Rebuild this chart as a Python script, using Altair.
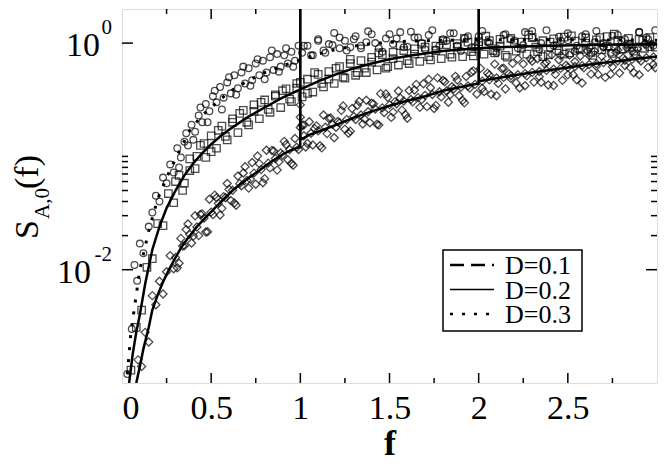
import altair as alt
import pandas as pd

# ---------------- data ----------------
# theory curve through the squares (smooth, solid)
sol_f = [0.04, 0.06, 0.08, 0.1, 0.13, 0.17, 0.21, 0.25, 0.3, 0.35, 0.4, 0.45, 0.5, 0.55, 0.6, 0.7,
         0.8, 0.9, 1.0, 1.1, 1.2, 1.3, 1.4, 1.5, 1.6, 1.7, 1.8, 1.9, 2.0, 2.2, 2.4, 2.6, 2.8, 3.0]
sol_v = [0.001, 0.0018, 0.0028, 0.004, 0.0075, 0.015, 0.024, 0.035, 0.05, 0.068, 0.087, 0.107, 0.128,
         0.15, 0.172, 0.22, 0.27, 0.33, 0.39, 0.46, 0.53, 0.6, 0.66, 0.72, 0.77, 0.81, 0.85, 0.88, 0.9,
         0.93, 0.95, 0.96, 0.97, 0.97]

# theory curve through the diamonds (diverges at f=1 and f=2)
low_f = [0.08, 0.1, 0.12, 0.15, 0.17, 0.2, 0.23, 0.26, 0.29, 0.33, 0.37, 0.42, 0.47, 0.52, 0.57, 0.62,
         0.67, 0.72, 0.77, 0.81, 0.86, 0.9, 0.95, 0.9995, 1.0, 1.0005, 1.05, 1.1, 1.2, 1.3, 1.4, 1.5,
         1.6, 1.7, 1.8, 1.9, 1.9995, 2.0, 2.0005, 2.1, 2.2, 2.3, 2.4, 2.5, 2.6, 2.7, 2.8, 2.9, 3.0]
low_v = [0.001, 0.0014, 0.002, 0.0031, 0.0044, 0.006, 0.0078, 0.0098, 0.012, 0.0155, 0.019, 0.024,
         0.029, 0.035, 0.042, 0.05, 0.058, 0.066, 0.075, 0.084, 0.095, 0.104, 0.114, 0.122, 100.0,
         0.14, 0.155, 0.165, 0.19, 0.22, 0.25, 0.28, 0.31, 0.34, 0.38, 0.41, 0.44, 100.0, 0.46, 0.49,
         0.52, 0.55, 0.58, 0.61, 0.64, 0.67, 0.7, 0.73, 0.76]

# dotted theory curve through the circles
dot_f = [0.03, 0.05, 0.08, 0.1, 0.15, 0.2, 0.25, 0.3, 0.38, 0.45, 0.5, 0.6, 0.7, 0.8, 0.9, 1.0, 1.1,
         1.2, 1.3, 1.4, 1.6, 1.8, 2.0, 2.5, 3.0]
dot_v = [0.0012, 0.0028, 0.006, 0.01, 0.022, 0.042, 0.065, 0.095, 0.17, 0.23, 0.27, 0.37, 0.46, 0.55,
         0.63, 0.71, 0.8, 0.88, 0.94, 0.99, 1.04, 1.06, 1.07, 1.07, 1.06]

# circles
circ_f = [0.03, 0.055, 0.07, 0.085, 0.1, 0.12, 0.15, 0.17, 0.19, 0.21, 0.23, 0.25, 0.27, 0.29, 0.31,
          0.33, 0.35, 0.37, 0.39, 0.41, 0.43, 0.45, 0.47, 0.49, 0.51, 0.53, 0.55, 0.57, 0.59, 0.61,
          0.63, 0.65, 0.67, 0.69, 0.71, 0.73, 0.75, 0.77, 0.79, 0.81, 0.83, 0.85, 0.87, 0.89, 0.91,
          0.93, 0.95, 0.97, 1.01, 1.04, 1.07, 1.1, 1.13, 1.16, 1.19, 1.22, 1.25, 1.28, 1.31, 1.34,
          1.37, 1.4, 1.44, 1.48, 1.52, 1.56, 1.6, 1.64, 1.68, 1.72, 1.76, 1.8, 1.84, 1.88, 1.92, 1.96,
          2.0, 2.05, 2.1, 2.15, 2.2, 2.25, 2.3, 2.35, 2.4, 2.45, 2.5, 2.55, 2.6, 2.65, 2.7, 2.75, 2.8,
          2.85, 2.9, 2.95, 2.99,
          0.32, 0.36, 0.4, 0.44, 0.48, 0.52, 0.56, 0.6, 0.64, 0.68, 0.72, 0.76, 0.8, 0.84, 0.88, 0.92,
          0.96, 0.99, 1.02, 1.06, 1.1, 1.14, 1.18, 1.22, 1.26, 1.3, 1.34, 1.38, 1.42, 1.46, 1.5, 1.54,
          1.58, 1.62, 1.66, 1.7, 1.74, 1.78, 1.82, 1.86, 1.9, 1.94, 1.98, 2.02, 2.06, 2.1, 2.14, 2.18,
          2.22, 2.26, 2.3, 2.34, 2.38, 2.42, 2.46, 2.5, 2.54, 2.58, 2.62, 2.66, 2.7, 2.74, 2.78, 2.82,
          2.86, 2.9, 2.94, 2.98]
circ_v = [0.0012, 0.003, 0.011, 0.008, 0.017, 0.014, 0.024, 0.032, 0.045, 0.04, 0.065, 0.058, 0.085,
          0.072, 0.118, 0.098, 0.135, 0.125, 0.19, 0.165, 0.23, 0.2, 0.29, 0.25, 0.34, 0.3, 0.41,
          0.33, 0.45, 0.36, 0.52, 0.4, 0.55, 0.44, 0.6, 0.47, 0.66, 0.52, 0.7, 0.55, 0.75, 0.58, 0.8,
          0.62, 0.78, 0.66, 0.84, 0.7, 0.82, 0.95, 0.78, 1.08, 0.86, 0.98, 1.23, 0.9, 1.05, 0.92, 1.15,
          0.95, 1.02, 1.2, 0.9, 1.1, 0.98, 1.25, 0.93, 1.12, 1.0, 1.18, 0.88, 1.08, 1.22, 0.95, 1.1,
          0.92, 1.15, 1.02, 0.9, 1.2, 1.05, 0.96, 1.28, 1.0, 0.9, 1.14, 1.06, 0.95, 1.2, 1.02, 0.92,
          1.16, 1.05, 0.98, 1.25, 1.08, 1.3,
          0.08, 0.16, 0.14, 0.27, 0.2, 0.38, 0.26, 0.5, 0.35, 0.62, 0.42, 0.72, 0.48, 0.86, 0.56, 0.9,
          0.62, 0.95, 0.95, 0.78, 1.05, 0.82, 0.96, 1.12, 0.86, 1.08, 0.9, 1.27, 1.0, 0.84, 1.2, 1.1,
          0.92, 1.26, 1.12, 0.88, 1.3, 0.95, 1.05, 1.22, 0.85, 1.15, 0.92, 1.28, 1.0, 0.82, 1.18, 1.08,
          0.9, 1.25, 1.12, 0.88, 1.3, 0.95, 1.05, 1.22, 0.85, 1.15, 0.92, 1.28, 1.0, 0.82, 1.18, 1.08,
          0.9, 1.25, 1.12, 0.95]

# squares
sq_f = [0.05, 0.08, 0.11, 0.14, 0.17, 0.2, 0.23, 0.26, 0.29, 0.32, 0.35, 0.38, 0.41, 0.44, 0.47, 0.5,
        0.53, 0.56, 0.59, 0.62, 0.65, 0.68, 0.71, 0.74, 0.77, 0.8, 0.83, 0.86, 0.89, 0.92, 0.95, 0.98,
        1.01, 1.04, 1.07, 1.1, 1.13, 1.16, 1.19, 1.22, 1.25, 1.28, 1.31, 1.34, 1.37, 1.4, 1.43, 1.46,
        1.49, 1.52, 1.55, 1.58, 1.61, 1.64, 1.67, 1.7, 1.73, 1.76, 1.79, 1.82, 1.85, 1.88, 1.91, 1.94,
        1.97, 2.0, 2.03, 2.06, 2.09, 2.12, 2.15, 2.18, 2.21, 2.24, 2.27, 2.3, 2.33, 2.36, 2.39, 2.42,
        2.45, 2.48, 2.51, 2.54, 2.57, 2.6, 2.63, 2.66, 2.69, 2.72, 2.75, 2.78, 2.81, 2.84, 2.87, 2.9,
        2.93, 2.96, 2.99,
        0.3, 0.34, 0.38, 0.42, 0.46, 0.5, 0.54, 0.58, 0.62, 0.66, 0.7, 0.74, 0.78, 0.82, 0.86, 0.9,
        0.94, 0.98, 1.0, 1.04, 1.08, 1.12, 1.16, 1.2, 1.24, 1.28, 1.32, 1.36, 1.4, 1.44, 1.48, 1.52,
        1.56, 1.6, 1.64, 1.68, 1.72, 1.76, 1.8, 1.84, 1.88, 1.92, 1.96, 2.0, 2.04, 2.08, 2.12, 2.16,
        2.2, 2.24, 2.28, 2.32, 2.36, 2.4, 2.44, 2.48, 2.52, 2.56, 2.6, 2.64, 2.68, 2.72, 2.76, 2.8,
        2.84, 2.88, 2.92, 2.96]
sq_v = [0.0013, 0.0031, 0.0044, 0.0105, 0.0125, 0.0255, 0.0245, 0.047, 0.039, 0.068, 0.058, 0.095,
        0.078, 0.125, 0.098, 0.152, 0.118, 0.185, 0.14, 0.215, 0.162, 0.255, 0.19, 0.285, 0.215,
        0.315, 0.245, 0.35, 0.27, 0.395, 0.305, 0.44, 0.335, 0.48, 0.37, 0.53, 0.41, 0.56, 0.44, 0.62,
        0.49, 0.66, 0.52, 0.7, 0.55, 0.75, 0.58, 0.79, 0.62, 0.83, 0.64, 0.86, 0.66, 0.89, 0.69, 0.92,
        0.71, 0.94, 0.73, 0.97, 0.75, 0.99, 0.76, 1.02, 0.77, 1.03, 0.8, 1.05, 0.82, 1.08, 0.78, 1.1,
        0.85, 1.02, 0.8, 1.12, 0.84, 1.05, 0.79, 1.09, 0.86, 1.13, 0.82, 1.04, 0.88, 1.11, 0.83, 1.07,
        0.87, 1.14, 0.81, 1.06, 0.89, 1.1, 0.85, 1.08, 0.9, 1.12, 0.92,
        0.06, 0.05, 0.075, 0.1, 0.13, 0.11, 0.17, 0.15, 0.2, 0.24, 0.2, 0.25, 0.3, 0.26, 0.34, 0.38,
        0.32, 0.4, 0.45, 0.36, 0.55, 0.44, 0.48, 0.6, 0.5, 0.72, 0.55, 0.6, 0.68, 0.82, 0.6, 0.73,
        0.95, 0.7, 0.8, 0.98, 0.76, 0.86, 1.05, 0.8, 0.92, 1.1, 0.84, 0.95, 1.15, 0.86, 0.94, 0.75,
        1.0, 0.9, 1.18, 0.92, 0.76, 1.02, 0.95, 0.8, 1.16, 0.9, 1.0, 0.78, 1.12, 0.94, 1.2, 0.88,
        0.98, 0.8, 1.06, 0.93]

# diamonds
dia_f = [0.09, 0.11, 0.13, 0.15, 0.17, 0.19, 0.21, 0.23, 0.25, 0.27, 0.29, 0.31, 0.33, 0.35, 0.37,
         0.39, 0.41, 0.43, 0.45, 0.47, 0.49, 0.51, 0.53, 0.55, 0.57, 0.59, 0.61, 0.63, 0.65, 0.67,
         0.69, 0.71, 0.73, 0.75, 0.77, 0.79, 0.81, 0.83, 0.85, 0.87, 0.89, 0.91, 0.93, 0.95, 0.97,
         0.99, 1.0, 1.0, 1.0, 1.01, 1.03, 1.05, 1.07, 1.09, 1.11, 1.13, 1.15, 1.17, 1.19, 1.21, 1.23,
         1.25, 1.27, 1.29, 1.31, 1.33, 1.35, 1.37, 1.39, 1.41, 1.43, 1.45, 1.47, 1.49, 1.51, 1.53,
         1.55, 1.57, 1.59, 1.61, 1.63, 1.65, 1.67, 1.69, 1.71, 1.73, 1.75, 1.77, 1.79, 1.81, 1.83,
         1.85, 1.87, 1.89, 1.91, 1.93, 1.95, 1.97, 1.99, 2.01, 2.03, 2.05, 2.07, 2.09, 2.11, 2.13,
         2.15, 2.17, 2.19, 2.21, 2.23, 2.25, 2.27, 2.29, 2.31, 2.33, 2.35, 2.37, 2.39, 2.41, 2.43,
         2.45, 2.47, 2.49, 2.51, 2.53, 2.55, 2.57, 2.59, 2.61, 2.63, 2.65, 2.67, 2.69, 2.71, 2.73,
         2.75, 2.77, 2.79, 2.81, 2.83, 2.85, 2.87, 2.89, 2.91, 2.93, 2.95, 2.97, 2.99,
         0.3, 0.34, 0.38, 0.42, 0.46, 0.5, 0.54, 0.58, 0.62, 0.66, 0.7, 0.74, 0.78, 0.82, 0.86, 0.9,
         0.94, 0.98, 1.02, 1.06, 1.1, 1.14, 1.18, 1.22, 1.26, 1.3, 1.34, 1.38, 1.42, 1.46, 1.5, 1.54,
         1.58, 1.62, 1.66, 1.7, 1.74, 1.78, 1.82, 1.86, 1.9, 1.94, 1.98, 2.02, 2.06, 2.1, 2.14, 2.18,
         2.22, 2.26, 2.3, 2.34, 2.38, 2.42, 2.46, 2.5, 2.54, 2.58, 2.62, 2.66, 2.7, 2.74, 2.78, 2.82,
         2.86, 2.9, 2.94, 2.98,
         0.32, 0.36, 0.4, 0.44, 0.48, 0.52, 0.56, 0.6, 0.64, 0.68, 0.72, 0.76, 0.8, 0.84, 0.88, 0.92,
         0.96, 1.02, 1.04, 1.08, 1.12, 1.16, 1.2, 1.24, 1.28, 1.32, 1.36, 1.4, 1.44, 1.48, 1.52, 1.56,
         1.6, 1.64, 1.68, 1.72, 1.76, 1.8, 1.84, 1.88, 1.92, 1.96, 2.02, 2.06, 2.1, 2.14, 2.18, 2.22,
         2.26, 2.3, 2.34, 2.38, 2.42, 2.46, 2.5, 2.54, 2.58, 2.62, 2.66, 2.7, 2.74, 2.78, 2.82, 2.86,
         2.9, 2.94, 2.98]
dia_v = [0.0016, 0.0014, 0.0028, 0.0023, 0.0059, 0.0049, 0.0079, 0.0061, 0.0096, 0.0133, 0.0102,
         0.0104, 0.0189, 0.0163, 0.0253, 0.0172, 0.0299, 0.02, 0.0311, 0.0215, 0.0419, 0.0306,
         0.0432, 0.0304, 0.0441, 0.0576, 0.0408, 0.0388, 0.0671, 0.0551, 0.0811, 0.0525, 0.0884,
         0.0568, 0.0863, 0.0585, 0.1134, 0.0792, 0.1116, 0.0757, 0.1071, 0.1357, 0.0935, 0.0866,
         0.144, 0.115, 0.285, 0.222, 0.18, 0.189, 0.121, 0.202, 0.126, 0.186, 0.124, 0.232, 0.159,
         0.218, 0.146, 0.203, 0.255, 0.174, 0.16, 0.265, 0.212, 0.305, 0.193, 0.313, 0.198, 0.291,
         0.192, 0.358, 0.244, 0.332, 0.221, 0.303, 0.378, 0.256, 0.233, 0.382, 0.303, 0.432, 0.271,
         0.438, 0.275, 0.404, 0.265, 0.493, 0.335, 0.456, 0.301, 0.412, 0.509, 0.343, 0.312, 0.508,
         0.401, 0.569, 0.356, 0.598, 0.373, 0.543, 0.354, 0.653, 0.441, 0.595, 0.394, 0.537, 0.662,
         0.445, 0.402, 0.653, 0.514, 0.728, 0.453, 0.727, 0.452, 0.657, 0.427, 0.787, 0.53, 0.714,
         0.469, 0.637, 0.785, 0.526, 0.475, 0.77, 0.605, 0.855, 0.532, 0.852, 0.529, 0.767, 0.498,
         0.917, 0.617, 0.829, 0.544, 0.738, 0.908, 0.608, 0.548, 0.887, 0.696, 0.983, 0.611, 0.976,
         0.606,
         0.0128, 0.0162, 0.0205, 0.0238, 0.0285, 0.0322, 0.0385, 0.0432, 0.0502, 0.0575, 0.0612,
         0.0712, 0.0765, 0.0872, 0.0958, 0.103, 0.115, 0.1205, 0.152, 0.16, 0.168, 0.181, 0.192,
         0.198, 0.212, 0.225, 0.232, 0.248, 0.262, 0.268, 0.285, 0.292, 0.308, 0.318, 0.33, 0.346,
         0.352, 0.372, 0.378, 0.396, 0.408, 0.418, 0.432, 0.462, 0.474, 0.492, 0.498, 0.515, 0.526,
         0.538, 0.552, 0.562, 0.575, 0.588, 0.598, 0.612, 0.621, 0.632, 0.648, 0.658, 0.672, 0.681,
         0.695, 0.706, 0.718, 0.731, 0.742, 0.755,
         0.0114, 0.0226, 0.0198, 0.0307, 0.0216, 0.0455, 0.0348, 0.0512, 0.0371, 0.0714, 0.0627,
         0.1007, 0.0636, 0.1131, 0.0896, 0.1274, 0.0835, 0.189, 0.13, 0.176, 0.119, 0.216, 0.181,
         0.279, 0.167, 0.283, 0.214, 0.295, 0.189, 0.356, 0.246, 0.328, 0.217, 0.386, 0.317, 0.479,
         0.282, 0.47, 0.35, 0.473, 0.297, 0.553, 0.398, 0.523, 0.343, 0.6, 0.488, 0.726, 0.42, 0.691,
         0.506, 0.677, 0.422, 0.777, 0.525, 0.684, 0.444, 0.775, 0.625, 0.925, 0.532, 0.868, 0.635,
         0.847, 0.526, 0.965, 0.648]

x_ticks = [0, 0.5, 1, 1.5, 2, 2.5]
x_major = [0.5, 1, 1.5, 2, 2.5]
x_minor = [0.25, 0.75, 1.25, 1.75, 2.25, 2.75]
y_major = [0.01, 1]
y_exp = ["-2", "0"]
y_minor = [0.02, 0.03, 0.04, 0.05, 0.06, 0.07, 0.08, 0.09, 0.1]
legend_labels = ["D=0.1", "D=0.2", "D=0.3"]

# ---------------- chart ----------------
W, H = 535, 374
FONT = "Liberation Serif"
xs = alt.Scale(domain=[0, 3], nice=False, zero=False)
ys = alt.Scale(type="log", domain=[0.001, 2], nice=False)

xax = alt.Axis(values=x_ticks, format="~g", ticks=False, domain=False, grid=False,
               labelFont=FONT, labelFontSize=34, labelPadding=8, labelColor="black",
               title="f", titleFont=FONT, titleFontSize=36, titleFontWeight="bold",
               titleColor="black", titlePadding=1)
yax = alt.Axis(values=y_major, labels=False, ticks=False, domain=False, grid=False, title=None)


def X(field="f"):
    return alt.X(field, type="quantitative", scale=xs, axis=xax)


def Y(field="v"):
    return alt.Y(field, type="quantitative", scale=ys, axis=yax)


df_c = pd.DataFrame({"f": circ_f, "v": circ_v})
df_s = pd.DataFrame({"f": sq_f, "v": sq_v})
df_d = pd.DataFrame({"f": dia_f, "v": dia_v})
df_sol = pd.DataFrame({"f": sol_f, "v": sol_v})
df_low = pd.DataFrame({"f": low_f, "v": low_v})
df_dot = pd.DataFrame({"f": dot_f, "v": dot_v})

circles = alt.Chart(df_c).mark_point(shape="circle", filled=False, color="black", size=45,
                                     strokeWidth=1.3, clip=True).encode(x=X(), y=Y())
squares = alt.Chart(df_s).mark_point(shape="square", filled=False, color="black", size=55,
                                     strokeWidth=1.3, clip=True).encode(x=X(), y=Y())
diamonds = alt.Chart(df_d).mark_point(shape="diamond", filled=False, color="black", size=65,
                                      strokeWidth=1.3, clip=True).encode(x=X(), y=Y())
line_sol = alt.Chart(df_sol).mark_line(color="black", strokeWidth=2.5, clip=True).encode(x=X(), y=Y())
line_low = alt.Chart(df_low).mark_line(color="black", strokeWidth=2.5, clip=True).encode(x=X(), y=Y())
line_dot = alt.Chart(df_dot).mark_line(color="black", strokeWidth=3, strokeDash=[3, 9],
                                       clip=True).encode(x=X(), y=Y())


# inward ticks on all four sides
def xt(vals, ln, top):
    d = pd.DataFrame({"f": vals})
    y0, y1 = (0, ln) if top else (H, H - ln)
    return alt.Chart(d).mark_rule(color="black", strokeWidth=1.5).encode(
        x=X(), y=alt.value(y0), y2=alt.value(y1))


def yt(vals, ln, right):
    d = pd.DataFrame({"v": vals})
    x0, x1 = (W, W - ln) if right else (0, ln)
    return alt.Chart(d).mark_rule(color="black", strokeWidth=1.5).encode(
        y=Y(), x=alt.value(x0), x2=alt.value(x1))


ticks = [xt(x_major, 10, False), xt(x_minor, 5, False), xt(x_major, 10, True), xt(x_minor, 5, True),
         yt(y_major, 11, False), yt(y_minor, 6, False), yt(y_major, 11, True), yt(y_minor, 6, True)]

# y tick labels "10" with superscript exponent
ylabels = []
for val, ex in zip(y_major, y_exp):
    d = pd.DataFrame({"v": [val]})
    base_right = -22 - (len(ex) - 1) * 9
    ylabels.append(alt.Chart(d).mark_text(text="10", font=FONT, fontSize=34, align="right",
                                          baseline="middle", dy=3, color="black").encode(
        y=Y(), x=alt.value(base_right)))
    ylabels.append(alt.Chart(d).mark_text(text=ex, font=FONT, fontSize=21, align="right",
                                          baseline="middle", dy=-15, color="black").encode(
        y=Y(), x=alt.value(-10)))

# y-axis title with subscript: S_{A,0}(f)
one = pd.DataFrame({"k": [0]})


def ttl(txt, size, xpx, ypx):
    return alt.Chart(one).mark_text(text=txt, font=FONT, fontSize=size, angle=270, align="left",
                                    baseline="alphabetic", color="black").encode(
        x=alt.value(xpx), y=alt.value(ypx))


ytitle = [ttl("S", 34, -84, 230), ttl("A,0", 21, -73, 210), ttl("(f)", 34, -84, 180)]

# legend box
lg_box = alt.Chart(one).mark_rect(fill="white", stroke="black", strokeWidth=1.5).encode(
    x=alt.value(321), x2=alt.value(460), y=alt.value(241), y2=alt.value(322))
dashes = [[14, 7], [1, 0], [3, 9]]
lg_items = []
for i, (lab, dsh) in enumerate(zip(legend_labels, dashes)):
    yy = 256 + i * 24.5
    lg_items.append(alt.Chart(one).mark_rule(color="black", strokeWidth=2.5 if i != 1 else 1.5,
                                             strokeDash=dsh).encode(
        x=alt.value(328), x2=alt.value(372), y=alt.value(yy)))
    lg_items.append(alt.Chart(one).mark_text(text=lab, font=FONT, fontSize=26, align="left",
                                             baseline="middle", color="black").encode(
        x=alt.value(383), y=alt.value(yy + 1)))

chart = alt.layer(circles, squares, diamonds, line_sol, line_low, line_dot, *ticks, *ylabels,
                  *ytitle, lg_box, *lg_items).properties(
    width=W, height=H,
    autosize=alt.AutoSizeParams(type="none"),
    padding={"left": 114, "top": 1, "right": 4, "bottom": 77},
).configure_view(stroke="black", strokeWidth=3).configure(background="white")

chart.save("out.html", embed_options={"renderer": "svg", "actions": False})
